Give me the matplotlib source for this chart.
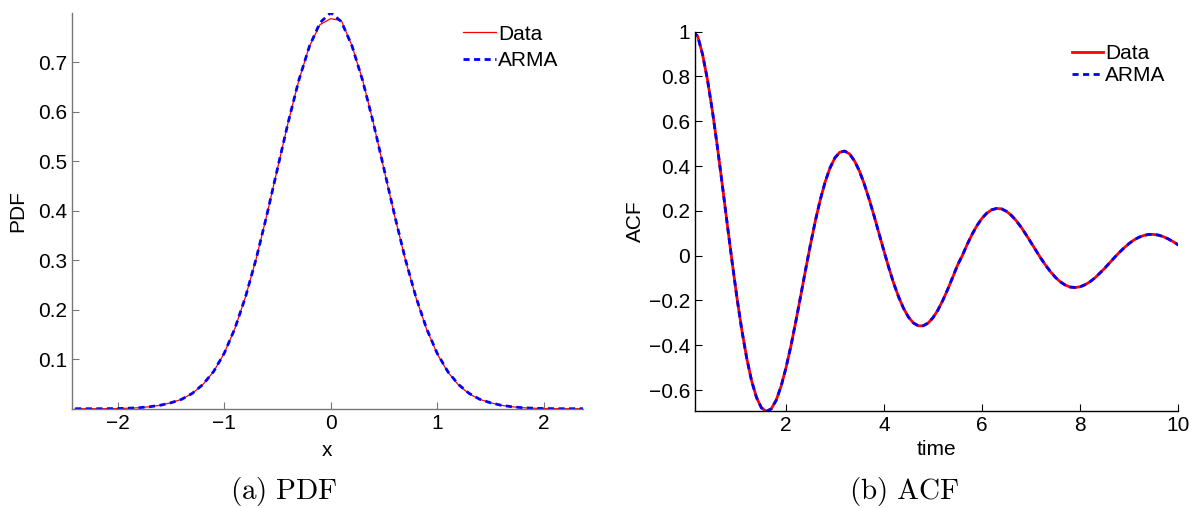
import matplotlib
matplotlib.use("Agg")
import matplotlib.pyplot as plt

plt.rcParams['font.family'] = ['Liberation Sans', 'DejaVu Sans']
plt.rcParams['mathtext.fontset'] = 'cm'

# ---- PDF panel data (x from -2.4 to 2.4, step 0.1) ----
pdf_x = [round(-2.4 + 0.1 * i, 1) for i in range(49)]
pdf_data = [0.0, 0.0, 0.0, 0.0001, 0.0003, 0.001, 0.002, 0.004, 0.007, 0.012,
            0.019, 0.031, 0.049, 0.075, 0.112, 0.162, 0.226, 0.303, 0.391, 0.485,
            0.578, 0.663, 0.732, 0.776, 0.788, 0.784, 0.733, 0.664, 0.578, 0.484,
            0.390, 0.302, 0.225, 0.161, 0.111, 0.074, 0.048, 0.030, 0.019, 0.012,
            0.007, 0.004, 0.002, 0.001, 0.0003, 0.0001, 0.0, 0.0, 0.0]
pdf_arma = [0.0, 0.0, 0.0, 0.0001, 0.0003, 0.001, 0.002, 0.004, 0.007, 0.012,
            0.019, 0.031, 0.049, 0.075, 0.112, 0.162, 0.226, 0.303, 0.391, 0.485,
            0.578, 0.663, 0.732, 0.780, 0.800, 0.782, 0.733, 0.663, 0.578, 0.485,
            0.391, 0.303, 0.226, 0.162, 0.112, 0.075, 0.049, 0.031, 0.019, 0.012,
            0.007, 0.004, 0.002, 0.001, 0.0003, 0.0001, 0.0, 0.0, 0.0]

# ---- ACF panel data (time from 0.1 to 10.1, step 0.1) ----
acf_t = [round(0.1 * i, 1) for i in range(1, 102)]
acf_data = [1.000,
            0.980, 0.898, 0.785, 0.646, 0.489, 0.320, 0.146, -0.024, -0.186, -0.332,
            -0.457, -0.559, -0.633, -0.679, -0.695, -0.684, -0.646, -0.584, -0.502, -0.405,
            -0.296, -0.181, -0.064, 0.049, 0.155, 0.249, 0.329, 0.392, 0.437, 0.462,
            0.467, 0.454, 0.423, 0.378, 0.319, 0.251, 0.177, 0.099, 0.021, -0.054,
            -0.124, -0.184, -0.235, -0.274, -0.300, -0.313, -0.313, -0.301, -0.277, -0.243,
            -0.200, -0.151, -0.098, -0.043, 0.001, 0.051, 0.096, 0.135, 0.167, 0.190,
            0.205, 0.211, 0.209, 0.198, 0.180, 0.156, 0.127, 0.094, 0.059, 0.024,
            -0.011, -0.043, -0.072, -0.097, -0.117, -0.131, -0.140, -0.142, -0.139, -0.130,
            -0.117, -0.100, -0.079, -0.057, -0.033, -0.009, 0.014, 0.035, 0.054, 0.070,
            0.082, 0.090, 0.095, 0.095, 0.092, 0.085, 0.075, 0.063, 0.049, 0.033]
acf_arma = list(acf_data)

W, H = 1191, 508
fig = plt.figure(figsize=(W / 100, H / 100), dpi=100)

def px_axes(l, r, t, b):
    return fig.add_axes([l / W, 1 - b / H, (r - l) / W, (b - t) / H])

def style(ax, spine_color):
    for s in ['top', 'right']:
        ax.spines[s].set_visible(False)
    for s in ['left', 'bottom']:
        ax.spines[s].set_color(spine_color)
        ax.spines[s].set_linewidth(1.0)
    ax.tick_params(direction='in', length=5, width=0.8, labelsize=15, colors='black')
    ax.tick_params(axis='both', color=spine_color)

dash = (0, (2.2, 1.6))

# Left panel
ax1 = px_axes(72, 583, 12.7, 408.7)
ax1.plot(pdf_x, pdf_data, color='red', lw=0.9, label='Data')
ax1.plot(pdf_x, pdf_arma, color='blue', lw=2.0, ls=dash, label='ARMA')
ax1.set_xlim(-2.43, 2.37)
ax1.set_ylim(0, 0.8)
ax1.set_xticks([-2, -1, 0, 1, 2])
ax1.set_xticklabels(['\u22122', '\u22121', '0', '1', '2'])
ax1.set_yticks([0.1, 0.2, 0.3, 0.4, 0.5, 0.6, 0.7])
ax1.set_xlabel('x', fontsize=15, labelpad=6)
ax1.set_ylabel('PDF', fontsize=15, labelpad=8)
style(ax1, '#777777')
ax1.legend(loc='upper left', bbox_to_anchor=(0.765, 0.97), frameon=False, fontsize=15,
           handlelength=1.6, handletextpad=0.1, labelspacing=0.35, borderaxespad=0,
           borderpad=0)

# Right panel
ax2 = px_axes(695, 1178, 31.7, 410.7)
ax2.plot(acf_t, acf_data, color='red', lw=2.0, label='Data')
ax2.plot(acf_t, acf_arma, color='blue', lw=2.0, ls=dash, label='ARMA')
ax2.set_xlim(0.145, 10)
ax2.set_ylim(-0.692, 1.0)
ax2.set_xticks([2, 4, 6, 8, 10])
ax2.set_yticks([-0.6, -0.4, -0.2, 0, 0.2, 0.4, 0.6, 0.8, 1])
ax2.set_yticklabels(['\u22120.6', '\u22120.4', '\u22120.2', '0', '0.2', '0.4', '0.6', '0.8', '1'])
ax2.set_xlabel('time', fontsize=15, labelpad=4)
ax2.set_ylabel('ACF', fontsize=15, labelpad=3)
style(ax2, 'black')
ax2.legend(loc='upper left', bbox_to_anchor=(0.78, 0.968), frameon=False, fontsize=15,
           handlelength=1.5, handletextpad=0.1, labelspacing=0.15, borderaxespad=0,
           borderpad=0)

# Sub-captions
fig.text(284 / W, 1 - 499 / H, r'$\mathrm{(a)\ PDF}$', ha='center', va='baseline', fontsize=21)
fig.text(904 / W, 1 - 499 / H, r'$\mathrm{(b)\ ACF}$', ha='center', va='baseline', fontsize=21)

fig.savefig('out.png', dpi=100)
